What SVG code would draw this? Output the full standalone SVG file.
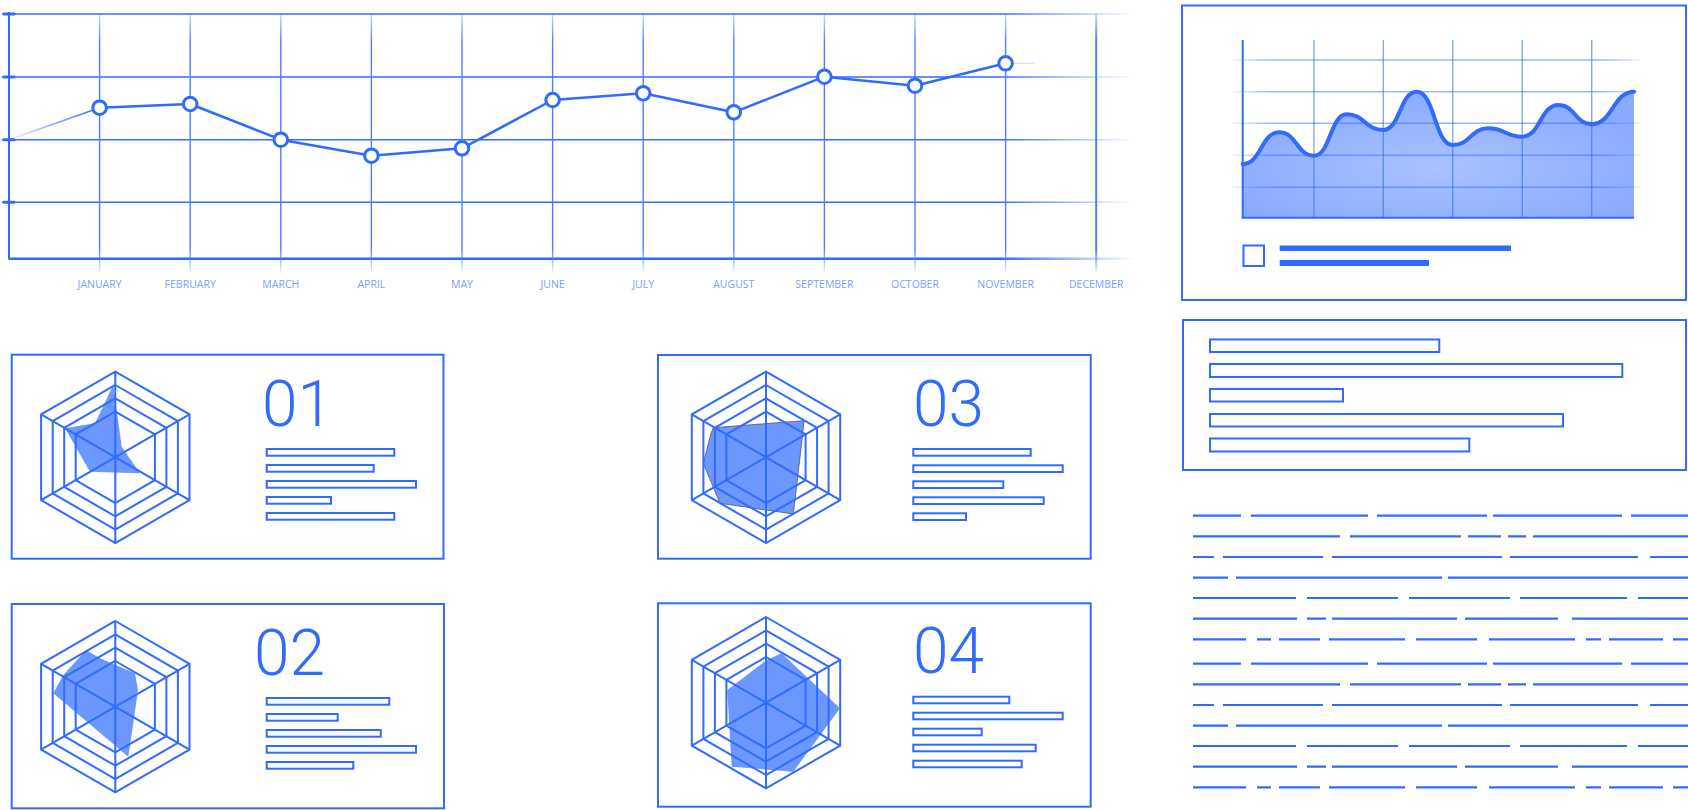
<svg xmlns="http://www.w3.org/2000/svg" width="1688" height="810" viewBox="0 0 1688 810">
<defs>
<style>
.card{fill:#fff;stroke:#2f6bff;stroke-width:2}
.bar{fill:#fff;stroke:#2f6bff;stroke-width:2}
.hex{fill:none;stroke:#2f6bff;stroke-width:2}
.num{font-family:Roboto,"Liberation Sans",sans-serif;font-weight:300;font-size:64px;fill:#2f6bff}
.lbl{font-family:"Open Sans","Liberation Sans",sans-serif;font-size:10.5px;fill:#7c9dff;text-anchor:middle}
.pt{fill:#fff;stroke:#2f6bff;stroke-width:3}
.txt{stroke:#2f6bff;stroke-width:2.2}
.radfill{fill:#5b8cff;fill-opacity:0.9}
</style>
<linearGradient id="hfade" gradientUnits="userSpaceOnUse" x1="0" y1="0" x2="1135" y2="0">
<stop offset="0" stop-color="#2f6bff"/><stop offset="0.88" stop-color="#2f6bff"/><stop offset="1" stop-color="#2f6bff" stop-opacity="0"/>
</linearGradient>
<linearGradient id="vfade" gradientUnits="userSpaceOnUse" x1="0" y1="10" x2="0" y2="275">
<stop offset="0" stop-color="#4a7dff" stop-opacity="0.2"/><stop offset="0.12" stop-color="#4a7dff"/><stop offset="0.9" stop-color="#4a7dff"/><stop offset="1" stop-color="#4a7dff" stop-opacity="0"/>
</linearGradient>
<linearGradient id="lfade" gradientUnits="userSpaceOnUse" x1="9" y1="0" x2="100" y2="0">
<stop offset="0" stop-color="#2f6bff" stop-opacity="0.1"/><stop offset="1" stop-color="#2f6bff"/>
</linearGradient>
<linearGradient id="afade" gradientUnits="userSpaceOnUse" x1="1233" y1="0" x2="1640" y2="0">
<stop offset="0" stop-color="#2f6bff" stop-opacity="0.1"/><stop offset="0.1" stop-color="#2f6bff" stop-opacity="0.5"/><stop offset="0.9" stop-color="#2f6bff" stop-opacity="0.5"/><stop offset="1" stop-color="#2f6bff" stop-opacity="0.1"/>
</linearGradient>
<radialGradient id="afill" cx="0.5" cy="0.6" r="0.6">
<stop offset="0" stop-color="#a9c2ff"/><stop offset="1" stop-color="#8aaaff"/>
</radialGradient>
<g id="hexgrid">
<polygon class="hex" points="0,-85.7 74.2,-42.85 74.2,42.85 0,85.7 -74.2,42.85 -74.2,-42.85"/>
<polygon class="hex" points="0,-72.3 62.6,-36.15 62.6,36.15 0,72.3 -62.6,36.15 -62.6,-36.15"/>
<polygon class="hex" points="0,-59 51.1,-29.5 51.1,29.5 0,59 -51.1,29.5 -51.1,-29.5"/>
<polygon class="hex" points="0,-45.7 39.6,-22.85 39.6,22.85 0,45.7 -39.6,22.85 -39.6,-22.85"/>
<path class="hex" d="M0,-85.7V85.7M-74.2,-42.85L74.2,42.85M-74.2,42.85L74.2,-42.85"/>
</g>
</defs>
<rect width="1688" height="810" fill="#fff"/>

<g id="line-chart">
<g stroke="url(#hfade)" stroke-width="1.6" fill="none">
<line x1="2" y1="14" x2="1135" y2="14"/>
<line x1="2" y1="77" x2="1135" y2="77"/>
<line x1="2" y1="139.7" x2="1135" y2="139.7"/>
<line x1="2" y1="202.3" x2="1135" y2="202.3"/>
<line x1="9" y1="258.7" x2="1135" y2="258.7" stroke-width="2.5"/>
</g>
<g stroke="url(#vfade)" stroke-width="1.4">
<line x1="99.6" y1="14" x2="99.6" y2="275"/><line x1="190.2" y1="14" x2="190.2" y2="275"/><line x1="280.8" y1="14" x2="280.8" y2="275"/><line x1="371.4" y1="14" x2="371.4" y2="275"/><line x1="462" y1="14" x2="462" y2="275"/><line x1="552.6" y1="14" x2="552.6" y2="275"/><line x1="643.2" y1="14" x2="643.2" y2="275"/><line x1="733.8" y1="14" x2="733.8" y2="275"/><line x1="824.4" y1="14" x2="824.4" y2="275"/><line x1="915" y1="14" x2="915" y2="275"/><line x1="1005.6" y1="14" x2="1005.6" y2="275"/><line x1="1096.2" y1="14" x2="1096.2" y2="275" stroke-width="2"/>
</g>
<line x1="9" y1="12" x2="9" y2="259.5" stroke="#2f6bff" stroke-width="2"/>
<g stroke="#2f6bff" stroke-width="3" stroke-linecap="round">
<line x1="4" y1="14" x2="14" y2="14"/><line x1="4" y1="77" x2="14" y2="77"/><line x1="4" y1="139.7" x2="14" y2="139.7"/><line x1="4" y1="202.3" x2="14" y2="202.3"/>
</g>
<polyline fill="none" stroke="url(#lfade)" stroke-width="1.5" points="9,139.7 99.6,107.7"/>
<polyline fill="none" stroke="#2f6bff" stroke-width="2.5" stroke-linejoin="round" points="99.6,107.7 190.2,104 280.8,139.7 371.4,155.7 462,148.3 552.6,100 643.2,93.3 733.8,112.3 824.4,76.7 915,85.7 1005.6,63.3"/>
<line x1="1005.6" y1="63.3" x2="1035" y2="63.3" stroke="#2f6bff" stroke-opacity="0.25" stroke-width="1"/>
<g>
<circle class="pt" cx="99.6" cy="107.7" r="6.8"/><circle class="pt" cx="190.2" cy="104" r="6.8"/><circle class="pt" cx="280.8" cy="139.7" r="6.8"/><circle class="pt" cx="371.4" cy="155.7" r="6.8"/><circle class="pt" cx="462" cy="148.3" r="6.8"/><circle class="pt" cx="552.6" cy="100" r="6.8"/><circle class="pt" cx="643.2" cy="93.3" r="6.8"/><circle class="pt" cx="733.8" cy="112.3" r="6.8"/><circle class="pt" cx="824.4" cy="76.7" r="6.8"/><circle class="pt" cx="915" cy="85.7" r="6.8"/><circle class="pt" cx="1005.6" cy="63.3" r="6.8"/>
</g>
<g>
<text class="lbl" x="99.6" y="288">JANUARY</text><text class="lbl" x="190.2" y="288">FEBRUARY</text><text class="lbl" x="280.8" y="288">MARCH</text><text class="lbl" x="371.4" y="288">APRIL</text><text class="lbl" x="462" y="288">MAY</text><text class="lbl" x="552.6" y="288">JUNE</text><text class="lbl" x="643.2" y="288">JULY</text><text class="lbl" x="733.8" y="288">AUGUST</text><text class="lbl" x="824.4" y="288">SEPTEMBER</text><text class="lbl" x="915" y="288">OCTOBER</text><text class="lbl" x="1005.6" y="288">NOVEMBER</text><text class="lbl" x="1096.2" y="288">DECEMBER</text>
</g>
</g>

<g id="area-card">
<rect class="card" x="1182" y="5.5" width="504" height="294.5"/>
<path fill="url(#afill)" d="M1242.7,164 C1261,164 1261,132.3 1279.3,132.3 C1296.7,132.3 1296.7,155.7 1314,155.7 C1330.3,155.7 1330.3,114.3 1346.7,114.3 C1365,114.3 1365,130 1383.3,130 C1400,130 1400,91.7 1416.7,91.7 C1434.7,91.7 1434.7,145 1452.7,145 C1470.5,145 1470.5,128.3 1488.3,128.3 C1505.3,128.3 1505.3,136.7 1522.3,136.7 C1540.3,136.7 1540.3,105 1558.3,105 C1575,105 1575,124 1591.7,124 C1612.8,124 1612.8,91.7 1634,91.7 L1634,217.7 L1242.7,217.7 Z"/>
<g stroke="url(#afade)" stroke-width="1.4">
<line x1="1233" y1="60" x2="1640" y2="60"/><line x1="1233" y1="91.7" x2="1640" y2="91.7"/><line x1="1233" y1="123.3" x2="1640" y2="123.3"/><line x1="1233" y1="155.3" x2="1640" y2="155.3"/><line x1="1233" y1="187.3" x2="1640" y2="187.3"/>
</g>
<g stroke="#2f6bff" stroke-opacity="0.6" stroke-width="1.4">
<line x1="1314" y1="40" x2="1314" y2="217.7"/><line x1="1383.3" y1="40" x2="1383.3" y2="217.7"/><line x1="1452.7" y1="40" x2="1452.7" y2="217.7"/><line x1="1522.3" y1="40" x2="1522.3" y2="217.7"/><line x1="1591.7" y1="40" x2="1591.7" y2="217.7"/>
</g>
<path fill="none" stroke="#2f6bff" stroke-width="4" stroke-linecap="round" d="M1242.7,164 C1261,164 1261,132.3 1279.3,132.3 C1296.7,132.3 1296.7,155.7 1314,155.7 C1330.3,155.7 1330.3,114.3 1346.7,114.3 C1365,114.3 1365,130 1383.3,130 C1400,130 1400,91.7 1416.7,91.7 C1434.7,91.7 1434.7,145 1452.7,145 C1470.5,145 1470.5,128.3 1488.3,128.3 C1505.3,128.3 1505.3,136.7 1522.3,136.7 C1540.3,136.7 1540.3,105 1558.3,105 C1575,105 1575,124 1591.7,124 C1612.8,124 1612.8,91.7 1634,91.7"/>
<path fill="none" stroke="#2f6bff" stroke-width="2" d="M1242.7,40 V217.7 H1634"/>
<rect x="1243.5" y="245.5" width="20.5" height="20.5" fill="#fff" stroke="#2f6bff" stroke-width="2"/>
<rect x="1279.7" y="245.5" width="231.3" height="5.5" fill="#2f6bff"/>
<rect x="1279.7" y="260" width="149.3" height="6" fill="#2f6bff"/>
</g>

<g id="text-box">
<rect class="card" x="1183" y="320" width="503" height="150"/>
<rect class="bar" x="1210" y="339.5" width="229.3" height="12.5"/>
<rect class="bar" x="1210" y="364" width="412.3" height="13"/>
<rect class="bar" x="1210" y="389" width="133" height="12.5"/>
<rect class="bar" x="1210" y="414" width="353" height="12.5"/>
<rect class="bar" x="1210" y="438.5" width="259.3" height="13"/>
</g>

<g id="card-01">
<rect class="card" x="11.7" y="354.7" width="431.8" height="204"/>
<polygon class="radfill" points="113.3,385 121.7,446.7 140,473.3 90,471.7 65,428.3 95,423.3"/>
<use href="#hexgrid" x="115.3" y="457.3"/>
<text class="num" x="262" y="426">01</text>
<rect class="bar" x="266.7" y="449" width="127.6" height="6.7"/>
<rect class="bar" x="266.7" y="465" width="107" height="6.7"/>
<rect class="bar" x="266.7" y="481" width="149.3" height="6.7"/>
<rect class="bar" x="266.7" y="497" width="64.3" height="6.7"/>
<rect class="bar" x="266.7" y="513" width="127.6" height="6.7"/>
</g>

<g id="card-02">
<rect class="card" x="11.7" y="604" width="432.3" height="204.3"/>
<polygon class="radfill" points="86,650 100,658.3 135,673.3 138,690 133.3,723.3 128.3,756.7 53.3,693.3 63.3,675"/>
<use href="#hexgrid" x="115.3" y="706.7"/>
<text class="num" x="254" y="675">02</text>
<rect class="bar" x="266.7" y="698" width="122.6" height="6.7"/>
<rect class="bar" x="266.7" y="714" width="71" height="6.7"/>
<rect class="bar" x="266.7" y="730" width="114" height="6.7"/>
<rect class="bar" x="266.7" y="746" width="149.3" height="6.7"/>
<rect class="bar" x="266.7" y="762" width="86.6" height="6.7"/>
</g>

<g id="card-03">
<rect class="card" x="658" y="355" width="432.7" height="203.7"/>
<polygon class="radfill" stroke="#555" stroke-width="0.8" points="713.3,427.7 804,420.7 802,440 793.3,514 720,503.3 703.3,463.3 711,433.3"/>
<use href="#hexgrid" x="766" y="457.3"/>
<text class="num" x="913" y="426">03</text>
<rect class="bar" x="913.3" y="449" width="117.4" height="6.7"/>
<rect class="bar" x="913.3" y="465.3" width="149.4" height="6.7"/>
<rect class="bar" x="913.3" y="481.3" width="90" height="6.7"/>
<rect class="bar" x="913.3" y="497.3" width="130.4" height="6.7"/>
<rect class="bar" x="913.3" y="513.3" width="52.7" height="6.7"/>
</g>

<g id="card-04">
<rect class="card" x="658" y="603.3" width="432.7" height="203.4"/>
<polygon class="radfill" points="781.7,653.3 840,708.3 793.3,771.7 731.7,766.7 727.3,690 766.7,660"/>
<use href="#hexgrid" x="766" y="702.7"/>
<text class="num" x="913" y="673.3">04</text>
<rect class="bar" x="913.3" y="696.7" width="96" height="6.6"/>
<rect class="bar" x="913.3" y="712.7" width="149.4" height="6.6"/>
<rect class="bar" x="913.3" y="728.7" width="68.4" height="6.6"/>
<rect class="bar" x="913.3" y="744.7" width="122.4" height="6.6"/>
<rect class="bar" x="913.3" y="760.7" width="108.4" height="6.6"/>
</g>

<g id="text-lines" class="txt">
<g id="para-a">
<path d="M1193,515.7H1241M1251,515.7H1368M1377,515.7H1487M1493,515.7H1622M1631,515.7H1688"/>
<path d="M1193,536.3H1340M1350,536.3H1461M1468,536.3H1501M1508,536.3H1526M1533,536.3H1688"/>
<path d="M1193,557H1214M1223,557H1323M1332,557H1502M1510,557H1638M1650,557H1688"/>
<path d="M1193,577.7H1228M1236,577.7H1442M1448,577.7H1688"/>
<path d="M1193,598H1296M1307,598H1398M1409,598H1510M1520,598H1627M1638,598H1688"/>
<path d="M1193,618.7H1297M1307,618.7H1326M1332,618.7H1457M1465,618.7H1558M1572,618.7H1688"/>
<path d="M1193,639.3H1246M1257,639.3H1271M1279,639.3H1320M1329,639.3H1405M1416,639.3H1477M1489,639.3H1575M1586,639.3H1601M1609,639.3H1663M1673,639.3H1688"/>
</g>
<use href="#para-a" y="148"/>
</g>
</svg>
